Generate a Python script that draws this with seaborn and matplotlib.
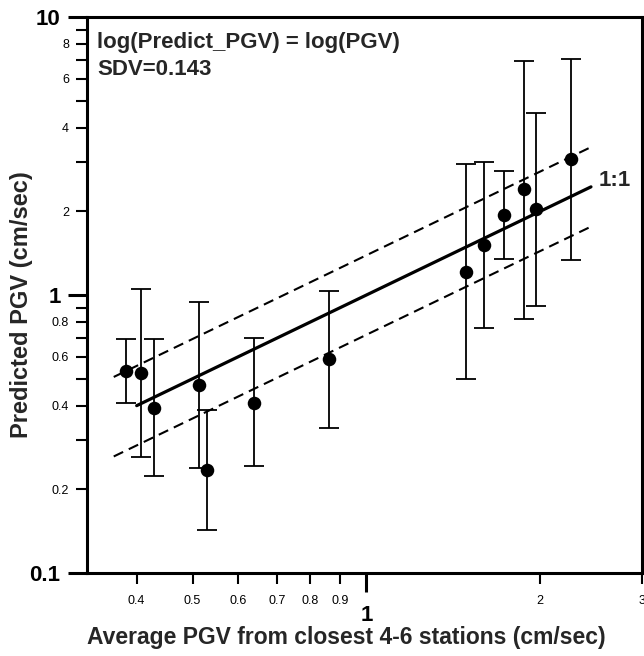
import matplotlib
matplotlib.use("Agg")
import matplotlib.pyplot as plt
import numpy as np
import pandas as pd
import seaborn as sns
from matplotlib.ticker import FixedLocator, FixedFormatter

# observed vs predicted PGV (cm/sec)
avg_pgv = [0.383, 0.407, 0.428, 0.512, 0.529, 0.640, 0.863, 1.487, 1.60, 1.733, 1.872, 1.971, 2.26]
pred_pgv = [0.533, 0.525, 0.393, 0.474, 0.234, 0.410, 0.587, 1.213, 1.51, 1.94, 2.40, 2.04, 3.08]
pred_upper = [0.695, 1.048, 0.695, 0.941, 0.387, 0.699, 1.03, 2.96, 3.01, 2.79, 6.96, 4.50, 7.08]
pred_lower = [0.409, 0.262, 0.223, 0.239, 0.143, 0.243, 0.333, 0.499, 0.759, 1.348, 0.820, 0.913, 1.336]

sdv = 0.143
one_to_one_x = [0.4, 2.45]
band_x = [0.365, 2.48]

x_major = [1]
x_minor = [0.4, 0.5, 0.6, 0.7, 0.8, 0.9, 2, 3]
x_minor_labels = ["0.4", "0.5", "0.6", "0.7", "0.8", "0.9", "2", "3"]
y_major = [0.1, 1, 10]
y_major_labels = ["0.1", "1", "10"]
y_minor = [0.2, 0.3, 0.4, 0.5, 0.6, 0.7, 0.8, 0.9, 2, 3, 4, 5, 6, 7, 8, 9]
y_minor_labels = ["0.2", "", "0.4", "", "0.6", "", "0.8", "", "2", "", "4", "", "6", "", "8", ""]

sns.set_style("ticks")
plt.rcParams['font.family'] = ['Liberation Sans', 'DejaVu Sans']

df = pd.DataFrame({"avg": avg_pgv, "pred": pred_pgv, "hi": pred_upper, "lo": pred_lower})

fig = plt.figure(figsize=(6.44, 6.56), dpi=100)
ax = fig.add_axes([0.135, 0.1265, 0.8615, 0.8475])
ax.set_xscale("log")
ax.set_yscale("log")

# error bars
yerr = np.array([df["pred"] - df["lo"], df["hi"] - df["pred"]])
ax.errorbar(df["avg"], df["pred"], yerr=yerr, fmt="none", ecolor="black",
            elinewidth=1.3, capsize=7.2, capthick=1.3, zorder=2)

# 1:1 line and +/- SDV band
lx = np.array(one_to_one_x)
ax.plot(lx, lx, color="black", lw=2.3, zorder=3)
bx = np.array(band_x)
ax.plot(bx, bx * 10 ** sdv, color="black", lw=1.5, linestyle=(0, (5, 3)), zorder=3)
ax.plot(bx, bx * 10 ** -sdv, color="black", lw=1.5, linestyle=(0, (5, 3)), zorder=3)

sns.scatterplot(data=df, x="avg", y="pred", ax=ax, color="black", s=95,
                edgecolor="black", linewidth=0, zorder=4)

ax.set_xlim(0.328, 3)
ax.set_ylim(0.1, 10)

ax.xaxis.set_major_locator(FixedLocator(x_major))
ax.xaxis.set_major_formatter(FixedFormatter(["1"]))
ax.xaxis.set_minor_locator(FixedLocator(x_minor))
ax.xaxis.set_minor_formatter(FixedFormatter(x_minor_labels))
ax.yaxis.set_major_locator(FixedLocator(y_major))
ax.yaxis.set_major_formatter(FixedFormatter(y_major_labels))
ax.yaxis.set_minor_locator(FixedLocator(y_minor))
ax.yaxis.set_minor_formatter(FixedFormatter(y_minor_labels))

ax.tick_params(axis="both", which="major", direction="out", length=14, width=2.2,
               labelsize=16, colors="black")
ax.tick_params(axis="both", which="minor", direction="out", length=8, width=1.5,
               labelsize=9, colors="black")
ax.tick_params(axis="x", which="major", pad=9)
ax.tick_params(axis="x", which="minor", pad=8)
ax.tick_params(axis="y", which="major", pad=5)
ax.tick_params(axis="y", which="minor", pad=5)
for lab in ax.get_xticklabels() + ax.get_yticklabels():
    lab.set_fontweight("bold")

for sp in ax.spines.values():
    sp.set_visible(True)
    sp.set_linewidth(2.2)
    sp.set_color("black")

ax.set_xlabel("Average PGV from closest 4-6 stations (cm/sec)", fontsize=16.5, fontweight="bold")
ax.set_ylabel("Predicted PGV (cm/sec)", fontsize=17, fontweight="bold")
ax.xaxis.set_label_coords(0.467, -0.096)
ax.yaxis.set_label_coords(-0.098, 0.482)

ax.text(0.018, 0.974, "log(Predict_PGV) = log(PGV)", transform=ax.transAxes,
        fontsize=16, fontweight="bold", va="top", ha="left")
ax.text(0.018, 0.924, "SDV=0.143", transform=ax.transAxes,
        fontsize=16, fontweight="bold", va="top", ha="left")
ax.text(2.53, 2.59, "1:1", fontsize=16, fontweight="bold", va="center", ha="left")

fig.savefig("out.png", dpi=100)
